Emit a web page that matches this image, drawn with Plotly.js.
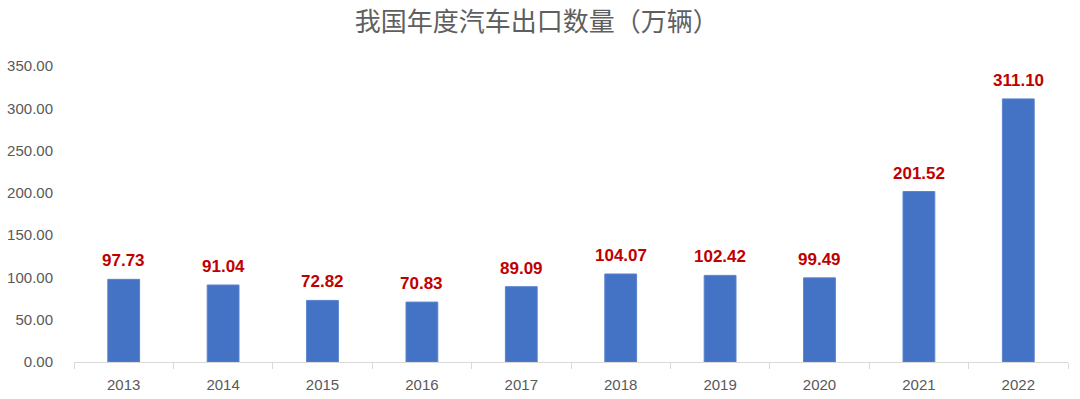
<!DOCTYPE html>
<html>
<head>
<meta charset="utf-8">
<script src="https://cdn.plot.ly/plotly-3.0.1.min.js"></script>
<style>html,body{margin:0;padding:0;background:#fff;}#chart{width:1080px;height:399px;}</style>
</head>
<body>
<div id="chart"></div>
<script>
const years = ['2013','2014','2015','2016','2017','2018','2019','2020','2021','2022'];
const exportsWan = [97.73, 91.04, 72.82, 70.83, 89.09, 104.07, 102.42, 99.49, 201.52, 311.10];
const titleText = '我国年度汽车出口数量（万辆）';

const trace = {
  type: 'bar',
  x: years,
  y: exportsWan,
  width: 0.32,
  marker: {color: '#4472c4', line: {color: '#5b83cc', width: 1}},
  hoverinfo: 'x+y'
};

// annotations positioned by category index on the category axis
const annotations = years.map((yr, i) => ({
  x: i, y: exportsWan[i], xref: 'x', yref: 'y',
  text: exportsWan[i].toFixed(2),
  showarrow: false, yanchor: 'bottom', yshift: 7,
  font: {family: 'Liberation Sans, Arial, sans-serif', size: 17, color: '#c00000', weight: 'bold'}
}));

const layout = {
  width: 1080, height: 399,
  margin: {l: 74, r: 12, t: 66, b: 37},
  paper_bgcolor: '#fff', plot_bgcolor: '#fff',
  showlegend: false,
  annotations: annotations,
  title: {text: titleText, x: 0.497, xanchor: 'center', y: 0.945, yanchor: 'middle',
          font: {family: 'Noto Sans CJK SC, sans-serif', size: 26, color: '#5f5f5f'}},
  xaxis: {
    type: 'category',
    range: [-0.5, years.length - 0.5],
    showgrid: false, zeroline: false,
    showline: true, linecolor: '#d9d9d9', linewidth: 1,
    ticks: 'outside', tickson: 'boundaries', ticklen: 6, tickcolor: '#d9d9d9',
    tickfont: {family: 'Liberation Sans, Arial, sans-serif', size: 15, color: '#595959'},
    ticklabelstandoff: 9
  },
  yaxis: {
    range: [0, 350], dtick: 50, tickformat: '.2f',
    showgrid: false, zeroline: false, showline: false, ticks: '',
    tickfont: {family: 'Liberation Sans, Arial, sans-serif', size: 15, color: '#595959'},
    ticklabelstandoff: 20
  },
  bargap: 0.68
};

Plotly.newPlot('chart', [trace], layout, {displayModeBar: false, staticPlot: true});
</script>
</body>
</html>
